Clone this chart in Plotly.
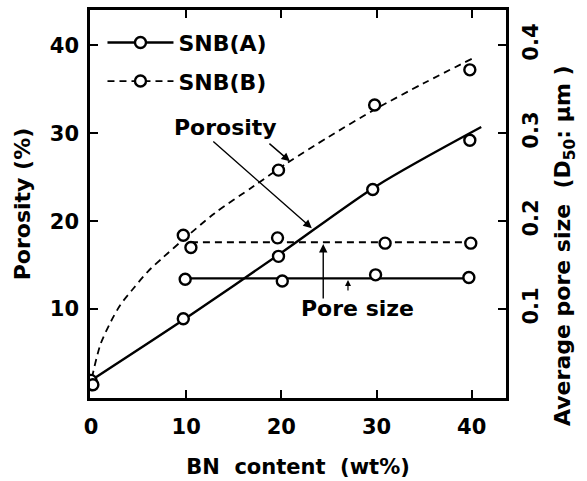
import plotly.graph_objects as go

# ---- data ----
# SNB(A) porosity (%)
a_por_x = [0.0, 9.7, 19.7, 29.6, 39.8]
a_por_y = [1.9, 8.9, 16.0, 23.6, 29.2]
# SNB(B) porosity (%)
b_por_x = [0.2, 9.7, 19.7, 29.8, 39.8]
b_por_y = [1.4, 18.4, 25.8, 33.2, 37.2]
# SNB(A) average pore size (um)
a_size_x = [9.9, 20.1, 29.9, 39.7]
a_size_y = [0.134, 0.132, 0.139, 0.136]
# SNB(B) average pore size (um)
b_size_x = [10.5, 19.6, 30.9, 39.9]
b_size_y = [0.170, 0.181, 0.175, 0.175]

# hand-drawn fit curves
a_por_fit_x = [0.0, 10.0, 20.0, 30.0, 41.0]
a_por_fit_y = [1.9, 9.0, 16.4, 24.0, 30.7]
b_por_fit_x = [0.1, 1.0, 2.1, 3.1, 4.5, 6.0, 7.6, 9.7, 13.0, 17.0, 20.6, 25.0, 30.0, 35.0, 40.1]
b_por_fit_y = [2.2, 6.0, 8.6, 10.5, 12.4, 14.3, 15.9, 17.9, 20.9, 23.9, 26.6, 29.6, 32.8, 35.7, 38.5]
a_size_fit_x = [10.0, 40.0]
a_size_fit_y = [0.135, 0.135]
b_size_fit_x = [10.5, 40.0]
b_size_fit_y = [0.176, 0.176]

x_ticks = [0, 10, 20, 30, 40]
y_ticks = [10, 20, 30, 40]
y2_ticks = [0.1, 0.2, 0.3, 0.4]
y2_ticklabels = ["0.1", "0.2", "0.3", "0.4"]

FONT = "DejaVu Sans"
marker = dict(symbol="circle", size=11, color="white", line=dict(color="black", width=2.4))
solid = dict(color="black", width=2.4)
dashed = dict(color="black", width=1.8, dash="7px,5px")

fig = go.Figure()

# fit curves
fig.add_trace(go.Scatter(x=a_por_fit_x, y=a_por_fit_y, mode="lines",
                         line=dict(**solid, shape="spline", smoothing=0.8),
                         showlegend=False, hoverinfo="skip"))
fig.add_trace(go.Scatter(x=b_por_fit_x, y=b_por_fit_y, mode="lines",
                         line=dict(**dashed, shape="spline", smoothing=0.8),
                         showlegend=False, hoverinfo="skip"))
fig.add_trace(go.Scatter(x=a_size_fit_x, y=a_size_fit_y, mode="lines", line=solid, yaxis="y2",
                         showlegend=False, hoverinfo="skip"))
fig.add_trace(go.Scatter(x=b_size_fit_x, y=b_size_fit_y, mode="lines", line=dashed, yaxis="y2",
                         showlegend=False, hoverinfo="skip"))

# markers
fig.add_trace(go.Scatter(x=a_por_x, y=a_por_y, mode="markers", marker=marker, showlegend=False))
fig.add_trace(go.Scatter(x=b_por_x, y=b_por_y, mode="markers", marker=marker, showlegend=False))
fig.add_trace(go.Scatter(x=a_size_x, y=a_size_y, mode="markers", marker=marker, yaxis="y2", showlegend=False))
fig.add_trace(go.Scatter(x=b_size_x, y=b_size_y, mode="markers", marker=marker, yaxis="y2", showlegend=False))

# legend entries
fig.add_trace(go.Scatter(x=[None], y=[None], mode="lines+markers", name="SNB(A)", line=solid,
                         marker=marker, legendgroup="a"))
fig.add_trace(go.Scatter(x=[None], y=[None], mode="lines+markers", name="SNB(B)", line=dashed,
                         marker=marker, legendgroup="b"))

ann_font = dict(family=FONT, size=22, color="black", weight="bold")
arrow = dict(showarrow=True, arrowhead=2, arrowsize=1.2, arrowwidth=1.4, arrowcolor="black")
fig.update_layout(
    annotations=[
        dict(x=14.1, y=30.6, text="Porosity", showarrow=False, font=ann_font),
        dict(x=28.0, y=10.1, text="Pore size", showarrow=False, font=ann_font),
        dict(x=23.2, y=19.2, ax=-100, ay=-88, text="", **arrow),
        dict(x=20.9, y=26.8, ax=-22, ay=-19, text="", **arrow),
        dict(x=24.4, y=17.4, ax=0, ay=56, text="", **arrow),
        dict(x=27.0, y=13.3, ax=0, ay=12, text="", showarrow=True, arrowhead=2, arrowsize=1.0,
             arrowwidth=1.2, arrowcolor="black"),
        dict(x=1.142, y=0.392, xref="paper", yref="paper", xanchor="center", yanchor="middle",
             textangle=-90, showarrow=False,
             text="Average pore size  (D<sub>50</sub>: µm )",
             font=dict(family=FONT, size=22, color="black", weight="bold")),
    ]
)

axis_common = dict(showline=True, linecolor="black", linewidth=2.5, ticks="inside", ticklen=8,
                   tickwidth=2, tickcolor="black", showgrid=False, zeroline=False, automargin=False,
                   tickfont=dict(family=FONT, size=21, color="black", weight="bold"))

fig.update_layout(
    width=587, height=481,
    margin=dict(l=90, r=81, t=10, b=83, autoexpand=False),
    paper_bgcolor="white", plot_bgcolor="white",
    font=dict(family=FONT, color="black"),
    xaxis=dict(range=[-0.1, 43.6], tickvals=x_ticks, mirror="ticks", ticklabelstandoff=8,
               title=dict(text="BN  content  (wt%)", font=dict(family=FONT, size=21, weight="bold"), standoff=22),
               **axis_common),
    yaxis=dict(range=[-0.1, 44.0], tickvals=y_ticks, mirror="ticks", ticklabelstandoff=4,
               title=dict(text="Porosity (%)", font=dict(family=FONT, size=22, weight="bold"), standoff=14),
               **axis_common),
    yaxis2=dict(range=[-0.001, 0.44], tickvals=y2_ticks, ticktext=y2_ticklabels, overlaying="y",
                side="right", tickangle=-90, ticklabelstandoff=4,
                **axis_common),
    legend=dict(x=0.03, y=0.97, xanchor="left", yanchor="top", bgcolor="rgba(0,0,0,0)",
                font=dict(family=FONT, size=22, color="black", weight="bold"),
                itemwidth=66, tracegroupgap=7),
    showlegend=True,
)

fig.write_html("out.html")
